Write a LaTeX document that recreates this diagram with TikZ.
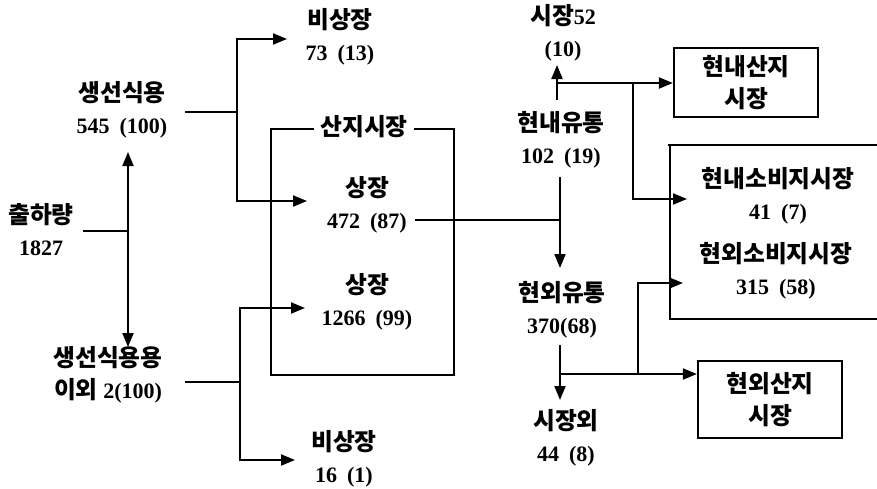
\documentclass[tikz,border=0pt]{standalone}
\usepackage{fontspec}
\setmainfont{Liberation Serif}
\newfontfamily\kr{Noto Sans CJK KR}[Scale=1.08]
\usetikzlibrary{arrows.meta}
\newcommand{\hk}[1]{{\kr #1}}
\newcommand{\gp}{\hspace{10pt}}
\begin{document}
\begin{tikzpicture}[x=1pt,y=-1pt,
  lbl/.style={align=center,font=\fontsize{22}{32}\selectfont\bfseries,inner sep=0pt},
  ln/.style={line width=2pt},
  arr/.style={line width=2pt,-{Triangle[length=14pt,width=11pt]}},
  boxed/.style={lbl,draw,line width=2.2pt,minimum width=144pt}]
\useasboundingbox (0,0) rectangle (877,488);
% source and first split
\node[lbl] (ch) at (41,230) {\hk{출하량}\\1827};
\node[lbl] (fr) at (122,110) {\hk{생선식용}\\545\gp(100)};
\node[lbl] (nf) at (108,375) {\hk{생선식용용}\\\hk{이외} 2(100)};
% listed / non-listed
\node[lbl] (bs1) at (340,37) {\hk{비상장}\\73\gp(13)};
\node[lbl] (sj1) at (367,205) {\hk{상장}\\472\gp(87)};
\node[lbl] (sj2) at (367,302) {\hk{상장}\\1266\gp(99)};
\node[lbl] (bs2) at (344,459) {\hk{비상장}\\16\gp(1)};
% production market frame
\coordinate (sa) at (271,129);
\coordinate (sb) at (454,375);
\draw[ln] (sa) rectangle (sb);
\node[lbl,fill=white,inner xsep=6pt,inner ysep=3pt] (sanji) at (364,127) {\hk{산지시장}};
% distribution
\node[lbl] (m52) at (563,33) {\hk{시장}52\\(10)};
\node[lbl] (hn) at (561,140) {\hk{현내유통}\\102\gp(19)};
\node[lbl] (hw) at (562,310) {\hk{현외유통}\\370(68)};
\node[lbl] (mo) at (566,438) {\hk{시장외}\\44\gp(8)};
% destination boxes
\node[boxed,minimum height=69pt] (b1) at (746,82.5) {\hk{현내산지}\\\hk{시장}};
\node[boxed,minimum height=77pt] (b2) at (770,399.5) {\hk{현외산지}\\\hk{시장}};
\coordinate (ca) at (877,145);
\coordinate (cb) at (668,145);
\coordinate (cc) at (670,145);
\coordinate (cd) at (670,319);
\coordinate (ce) at (877,319);
\draw[ln] (ca) -- (cb);
\draw[ln] (cc) -- (cd) -- (ce);
\node[lbl] (c1) at (778,196) {\hk{현내소비지시장}\\41\gp(7)};
\node[lbl] (c2) at (776,271) {\hk{현외소비지시장}\\315\gp(58)};
% connectors: left
\coordinate (chE) at (83,231);
\coordinate (v1) at (128,231);
\coordinate (upT) at (128,152);
\coordinate (dnT) at (128,347);
\draw[ln] (chE) -- (v1);
\draw[arr] (v1) -- (upT);
\draw[arr] (v1) -- (dnT);
% fresh use split
\coordinate (frE) at (185,112);
\coordinate (fJ) at (237,112);
\coordinate (fT) at (237,39);
\coordinate (fB) at (237,201);
\coordinate (fTa) at (287,39);
\coordinate (fBa) at (307,201);
\draw[ln] (frE) -- (fJ);
\draw[arr] (fJ) -- (fT) -- (fTa);
\draw[arr] (fJ) -- (fB) -- (fBa);
% non-fresh split
\coordinate (nfE) at (185,382);
\coordinate (nJ) at (240,382);
\coordinate (nT) at (240,308);
\coordinate (nB) at (240,460);
\coordinate (nTa) at (305,308);
\coordinate (nBa) at (295,460);
\draw[ln] (nfE) -- (nJ);
\draw[arr] (nJ) -- (nT) -- (nTa);
\draw[arr] (nJ) -- (nB) -- (nBa);
% listed 472 to distribution
\coordinate (sE) at (415,220);
\coordinate (mJ) at (560,220);
\coordinate (hnS) at (560,177);
\coordinate (hwT) at (560,268);
\draw[ln] (sE) -- (mJ);
\draw[arr] (hnS) -- (hwT);
% in-province distribution
\coordinate (hnN) at (557,100);
\coordinate (m52T) at (557,65);
\coordinate (hJ) at (557,83);
\coordinate (hJ2) at (633,83);
\coordinate (hJ3) at (633,199);
\coordinate (c1T) at (687,199);
\draw[arr] (hnN) -- (m52T);
\draw[arr] (hJ) -- (hJ -| b1.west);
\draw[arr] (hJ2) -- (hJ3) -- (c1T);
% out-of-province distribution
\coordinate (hwS) at (560,345);
\coordinate (moT) at (560,400);
\coordinate (wJ) at (560,374);
\coordinate (wJ2) at (638,374);
\coordinate (wJ3) at (638,283);
\coordinate (c2T) at (683,283);
\draw[arr] (hwS) -- (moT);
\draw[arr] (wJ) -- (wJ -| b2.west);
\draw[arr] (wJ2) -- (wJ3) -- (c2T);
\end{tikzpicture}
\end{document}
